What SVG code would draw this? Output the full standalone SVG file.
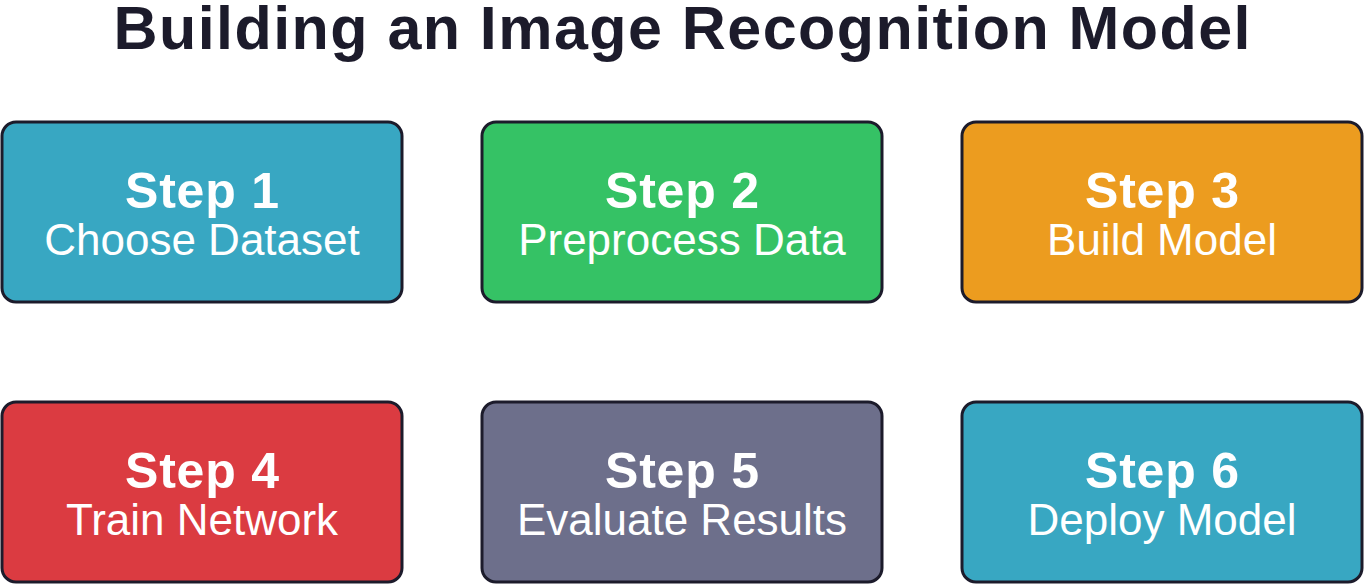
<svg xmlns="http://www.w3.org/2000/svg" width="1364" height="584" viewBox="0 0 1364 584">
<style>
.box{stroke:#1c1b2b;stroke-width:3}
.t{font-family:"Liberation Sans",Arial,sans-serif;fill:#fff;text-anchor:middle}
.h{font-weight:bold;font-size:50px}
.s{font-size:44px}
.title{font-family:"Liberation Sans",Arial,sans-serif;font-weight:bold;font-size:61px;fill:#1c1b2b;text-anchor:middle}
</style>
<rect width="1364" height="584" fill="#fff"/>
<text class="title" x="682" y="49" textLength="1137" lengthAdjust="spacing">Building an Image Recognition Model</text>
<g id="connectors"/>
<g id="step1"><rect class="box" x="2" y="122" width="400" height="180" rx="14" fill="#38a7c2"/><text class="t h" x="202" y="208" textLength="154">Step 1</text><text class="t s" x="202" y="255">Choose Dataset</text></g>
<g id="step2"><rect class="box" x="482" y="122" width="400" height="180" rx="14" fill="#35c265"/><text class="t h" x="682" y="208" textLength="154">Step 2</text><text class="t s" x="682" y="255">Preprocess Data</text></g>
<g id="step3"><rect class="box" x="962" y="122" width="400" height="180" rx="14" fill="#ec9c1f"/><text class="t h" x="1162" y="208" textLength="154">Step 3</text><text class="t s" x="1162" y="255">Build Model</text></g>
<g id="step4"><rect class="box" x="2" y="402" width="400" height="180" rx="14" fill="#db3b41"/><text class="t h" x="202" y="488" textLength="154">Step 4</text><text class="t s" x="202" y="535">Train Network</text></g>
<g id="step5"><rect class="box" x="482" y="402" width="400" height="180" rx="14" fill="#6d6f8b"/><text class="t h" x="682" y="488" textLength="154">Step 5</text><text class="t s" x="682" y="535">Evaluate Results</text></g>
<g id="step6"><rect class="box" x="962" y="402" width="400" height="180" rx="14" fill="#38a7c2"/><text class="t h" x="1162" y="488" textLength="154">Step 6</text><text class="t s" x="1162" y="535">Deploy Model</text></g>
</svg>
